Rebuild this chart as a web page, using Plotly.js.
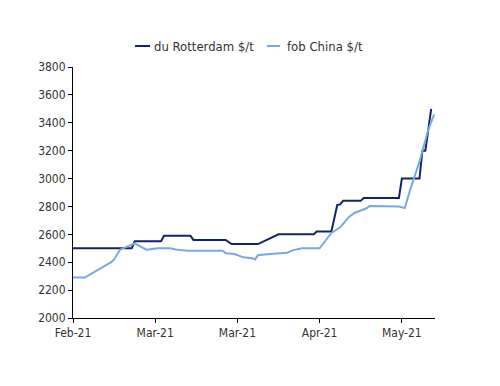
<!DOCTYPE html>
<html>
<head>
<meta charset="utf-8">
<script src="https://cdn.plot.ly/plotly-3.0.1.min.js"></script>
<style>html,body{margin:0;padding:0;background:#fff;}#chart{width:500px;height:386px;}</style>
</head>
<body>
<div id="chart"></div>
<script>
// du Rotterdam $/t
const rotterdamDates = ["2021-02-01","2021-02-21","2021-02-22","2021-03-03","2021-03-04","2021-03-13","2021-03-14","2021-03-25","2021-03-27","2021-04-05","2021-04-12","2021-04-24","2021-04-25","2021-04-30","2021-05-02","2021-05-03","2021-05-04","2021-05-10","2021-05-11","2021-05-23","2021-05-24","2021-05-30","2021-05-31","2021-06-01","2021-06-03"];
const rotterdamValues = [2500,2500,2550,2550,2590,2590,2560,2560,2530,2530,2600,2600,2620,2620,2810,2815,2840,2840,2860,2860,3000,3000,3200,3200,3500];
// fob China $/t
const chinaDates = ["2021-02-01","2021-02-05","2021-02-14","2021-02-15","2021-02-17","2021-02-21","2021-02-22","2021-02-26","2021-03-02","2021-03-06","2021-03-08","2021-03-12","2021-03-24","2021-03-25","2021-03-28","2021-03-31","2021-04-03","2021-04-04","2021-04-05","2021-04-08","2021-04-15","2021-04-17","2021-04-20","2021-04-26","2021-04-30","2021-05-03","2021-05-06","2021-05-08","2021-05-11","2021-05-12","2021-05-13","2021-05-23","2021-05-25","2021-05-26","2021-05-27","2021-05-30","2021-05-31","2021-06-01","2021-06-02","2021-06-04"];
const chinaValues = [2290,2290,2400,2420,2490,2525,2535,2490,2500,2500,2492,2482,2482,2464,2459,2435,2428,2420,2450,2457,2468,2487,2500,2500,2610,2650,2725,2755,2780,2787,2803,2800,2788,2860,2930,3121,3200,3260,3350,3460];
// axis ticks
const xTickVals = ["2021-02-01","2021-03-01","2021-03-29","2021-04-26","2021-05-24"];
const xTickText = ["Feb-21","Mar-21","Mar-21","Apr-21","May-21"];
const yTickVals = [2000,2200,2400,2600,2800,3000,3200,3400,3600,3800];
const seriesNames = ["du Rotterdam $/t", "fob China $/t"];
const seriesColors = ["#12236e", "#7aa7e6"];

const fam = "DejaVu Sans Condensed, DejaVu Sans, sans-serif";
const tickFont = {family: fam, size: 12, color: "#333333"};
const legendFont = {family: fam, size: 13, color: "#333333"};

const traces = [
  {x: rotterdamDates, y: rotterdamValues, type: "scatter", mode: "lines", name: seriesNames[0],
   line: {color: seriesColors[0], width: 2}},
  {x: chinaDates, y: chinaValues, type: "scatter", mode: "lines", name: seriesNames[1],
   line: {color: seriesColors[1], width: 2}}
];

// custom legend (short line samples like the original)
const px = p => (p - 73) / 362;
const legY = (318 - 46) / 251;
const legendShapes = [
  {type: "line", xref: "paper", yref: "paper", x0: px(135), x1: px(150), y0: legY, y1: legY,
   line: {color: seriesColors[0], width: 2}},
  {type: "line", xref: "paper", yref: "paper", x0: px(267), x1: px(280), y0: legY, y1: legY,
   line: {color: seriesColors[1], width: 2}}
];
const legendText = [
  {text: seriesNames[0], xref: "paper", yref: "paper", x: px(152), y: legY, xanchor: "left", yanchor: "middle",
   showarrow: false, font: legendFont},
  {text: seriesNames[1], xref: "paper", yref: "paper", x: px(285), y: legY, xanchor: "left", yanchor: "middle",
   showarrow: false, font: legendFont}
];

const layout = {
  width: 500, height: 386,
  margin: {l: 73, r: 65, t: 67, b: 68},
  paper_bgcolor: "#ffffff", plot_bgcolor: "#ffffff",
  font: tickFont,
  showlegend: false,
  shapes: legendShapes,
  annotations: legendText,
  xaxis: {type: "date", range: ["2021-02-01", "2021-06-04 07:00"],
          tickvals: xTickVals, ticktext: xTickText, tickmode: "array",
          showgrid: false, zeroline: false, showline: true, linecolor: "#000000", linewidth: 1,
          ticks: "outside", ticklen: 4, tickcolor: "#000000", tickfont: tickFont, fixedrange: true},
  yaxis: {range: [2000, 3800], tickvals: yTickVals, tickmode: "array",
          showgrid: false, zeroline: false, showline: true, linecolor: "#000000", linewidth: 1,
          ticks: "outside", ticklen: 4, tickcolor: "#000000", tickfont: tickFont, fixedrange: true}
};

Plotly.newPlot("chart", traces, layout, {displayModeBar: false, staticPlot: true});
</script>
</body>
</html>
